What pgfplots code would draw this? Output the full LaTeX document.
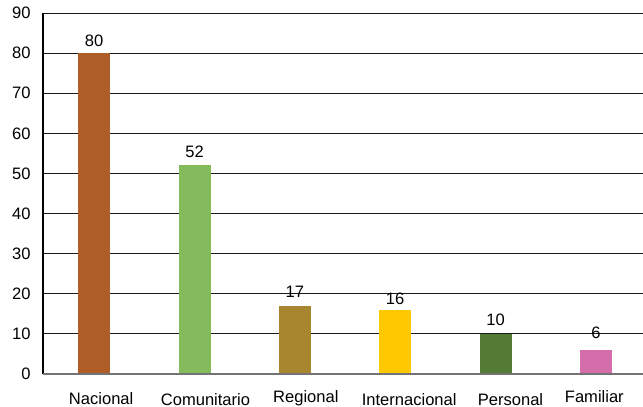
\documentclass[border=0pt]{standalone}
\usepackage{pgfplots}
\pgfplotsset{compat=1.18}
\usepackage{fontspec}
\setmainfont{Liberation Sans}
\definecolor{cNac}{HTML}{B05E27}
\definecolor{cCom}{HTML}{84BB5C}
\definecolor{cReg}{HTML}{A8862F}
\definecolor{cInt}{HTML}{FFC800}
\definecolor{cPer}{HTML}{537B35}
\definecolor{cFam}{HTML}{D36EAA}
\newcommand{\lf}{\fontsize{16.6}{19}\selectfont}
\begin{document}
\begin{tikzpicture}
\begin{axis}[
  scale only axis, width=600bp, height=361bp,
  xmin=-0.51, xmax=5.47, ymin=0, ymax=90,
  ytick={0,10,...,90},
  /pgf/number format/assume math mode=true,
  yticklabel style={font=\lf, xshift=-9bp},
  xtick=\empty,
  major tick length=0pt,
  ymajorgrids, grid style={black!90, line width=1bp},
  axis line style={draw=none},
  clip=false,
  nodes near coords,
  every node near coord/.append style={font=\lf, anchor=base},
  ybar, bar width=32bp, bar shift=0pt,
]
\addplot[fill=cNac, draw=none, every node near coord/.append style={yshift=7bp}] coordinates {(0,80)};
\addplot[fill=cCom, draw=none, every node near coord/.append style={yshift=7.5bp}] coordinates {(1,52)};
\addplot[fill=cReg, draw=none, every node near coord/.append style={yshift=8.5bp}] coordinates {(2,17)};
\addplot[fill=cInt, draw=none, every node near coord/.append style={yshift=5bp}] coordinates {(3,16)};
\addplot[fill=cPer, draw=none, every node near coord/.append style={yshift=8.3bp}] coordinates {(4,10)};
\addplot[fill=cFam, draw=none, every node near coord/.append style={yshift=11bp}] coordinates {(5,6)};
\draw[black, line width=1.2bp] (rel axis cs:0,0) -- (rel axis cs:0,1);
\draw[black!55, line width=1.2bp] (rel axis cs:0,0) -- (rel axis cs:1,0);
\node[font=\lf, anchor=base] at ([xshift=7bp,yshift=-30bp]axis cs:0,0) {Nacional};
\node[font=\lf, anchor=base] at ([xshift=11bp,yshift=-31bp]axis cs:1,0) {Comunitario};
\node[font=\lf, anchor=base] at ([xshift=11bp,yshift=-28.7bp]axis cs:2,0) {Regional};
\node[font=\lf, anchor=base] at ([xshift=14bp,yshift=-31bp]axis cs:3,0) {Internacional};
\node[font=\lf, anchor=base] at ([xshift=15bp,yshift=-31bp]axis cs:4,0) {Personal};
\node[font=\lf, anchor=base] at ([xshift=-1.5bp,yshift=-28.7bp]axis cs:5,0) {Familiar};
\end{axis}
\pgfresetboundingbox
\path (-43bp,-33bp) rectangle (600bp,374bp);
\end{tikzpicture}
\end{document}
